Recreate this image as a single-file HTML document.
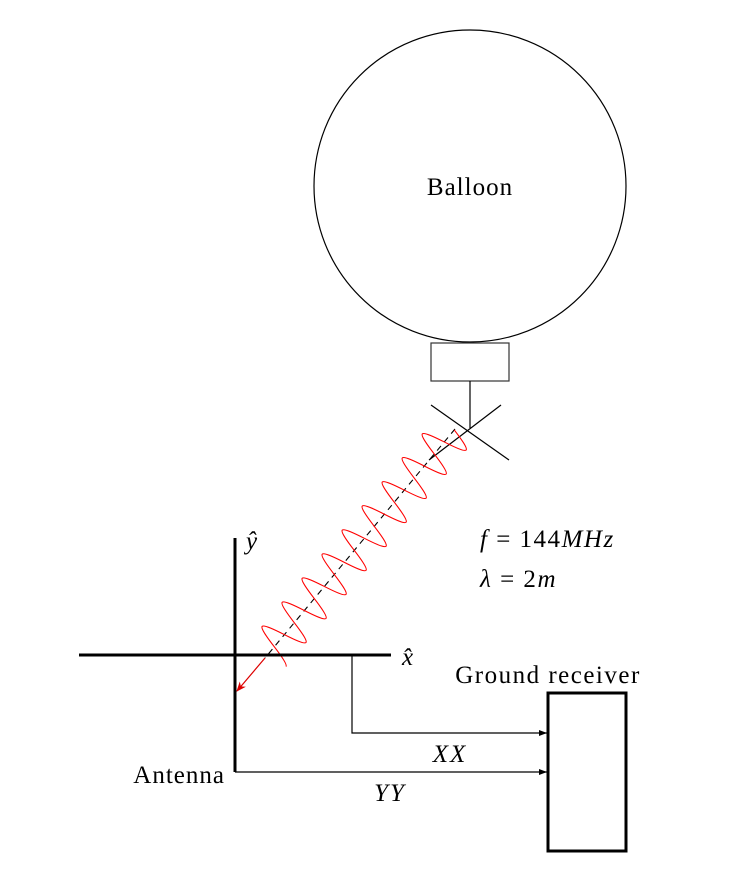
<!DOCTYPE html><html><head><style>body{margin:0;background:#fff}</style></head><body>
<svg width="748" height="885" viewBox="0 0 748 885" xmlns="http://www.w3.org/2000/svg" font-family="Liberation Serif, serif" font-size="25">
<defs>
<marker id="ab" markerWidth="8" markerHeight="6" refX="8" refY="3" orient="auto" markerUnits="userSpaceOnUse"><path d="M0,0L8,3L0,6z" fill="#000"/></marker>
<marker id="ar" markerWidth="10" markerHeight="8" refX="9" refY="4" orient="auto" markerUnits="userSpaceOnUse"><path d="M0,0L10,4L0,8L3,4z" fill="#d00"/></marker>
</defs>
<circle cx="470" cy="186" r="156" fill="none" stroke="#000" stroke-width="1.2"/>
<text x="470" y="195" text-anchor="middle" letter-spacing="1">Balloon</text>
<rect x="431" y="343" width="78" height="38" fill="none" stroke="#333" stroke-width="1.2"/>
<line x1="470" y1="381" x2="470" y2="428" stroke="#000" stroke-width="1.2"/>
<line x1="431" y1="405" x2="509" y2="460" stroke="#000" stroke-width="1.2"/>
<line x1="501" y1="405" x2="429" y2="460" stroke="#000" stroke-width="1.2"/>
<line x1="455" y1="429" x2="265" y2="658" stroke="#000" stroke-width="1.1" stroke-dasharray="6,5"/>
<line x1="265" y1="658" x2="237" y2="691" stroke="#d00" stroke-width="1.2" marker-end="url(#ar)"/>
<g transform="matrix(-0.6397,0.7688,0.7688,0.6397,455,429)">
<path fill="none" stroke="#f00" stroke-width="1.1" d="M1.17,0 c2.55,11.27 5.37,22 7.825,22 s5.275,-10.73 7.825,-22 s5.37,-22 7.825,-22 s5.275,10.73 7.825,22
s5.37,22 7.825,22 s5.275,-10.73 7.825,-22 s5.37,-22 7.825,-22 s5.275,10.73 7.825,22
s5.37,22 7.825,22 s5.275,-10.73 7.825,-22 s5.37,-22 7.825,-22 s5.275,10.73 7.825,22
s5.37,22 7.825,22 s5.275,-10.73 7.825,-22 s5.37,-22 7.825,-22 s5.275,10.73 7.825,22
s5.37,22 7.825,22 s5.275,-10.73 7.825,-22 s5.37,-22 7.825,-22 s5.275,10.73 7.825,22
s5.37,22 7.825,22 s5.275,-10.73 7.825,-22 s5.37,-22 7.825,-22 s5.275,10.73 7.825,22
s5.37,22 7.825,22 s5.275,-10.73 7.825,-22 s5.37,-22 7.825,-22 s5.275,10.73 7.825,22
s5.37,22 7.825,22 s5.275,-10.73 7.825,-22 s5.37,-22 7.825,-22 s5.275,10.73 7.825,22
s5.37,22 7.825,22 s5.275,-10.73 7.825,-22 s5.37,-22 7.825,-22 s5.275,10.73 7.825,22
s5.37,22 7.825,22"/>
</g>
<line x1="79" y1="655" x2="391" y2="655" stroke="#000" stroke-width="3"/>
<line x1="235" y1="538" x2="235" y2="772" stroke="#000" stroke-width="3"/>
<polyline points="352,655 352,733 547,733" fill="none" stroke="#000" stroke-width="1.2" marker-end="url(#ab)"/>
<line x1="235" y1="772" x2="547" y2="772" stroke="#000" stroke-width="1.2" marker-end="url(#ab)"/>
<rect x="548" y="693" width="78" height="158" fill="none" stroke="#000" stroke-width="3"/>
<text x="246" y="549" font-style="italic">ŷ</text>
<text x="402" y="665" font-style="italic">x̂</text>
<text x="548" y="683" text-anchor="middle" letter-spacing="1.5">Ground receiver</text>
<text x="450" y="762" text-anchor="middle" font-style="italic" letter-spacing="2">XX</text>
<text x="390" y="801" text-anchor="middle" font-style="italic" letter-spacing="2">YY</text>
<text x="225" y="783" text-anchor="end" letter-spacing="1">Antenna</text>
<text x="480" y="547" letter-spacing="1.5"><tspan font-style="italic">f</tspan> = 144<tspan font-style="italic">MHz</tspan></text>
<text x="480" y="587" letter-spacing="1.5"><tspan font-style="italic">λ</tspan> = 2<tspan font-style="italic">m</tspan></text>
</svg>
</body></html>
